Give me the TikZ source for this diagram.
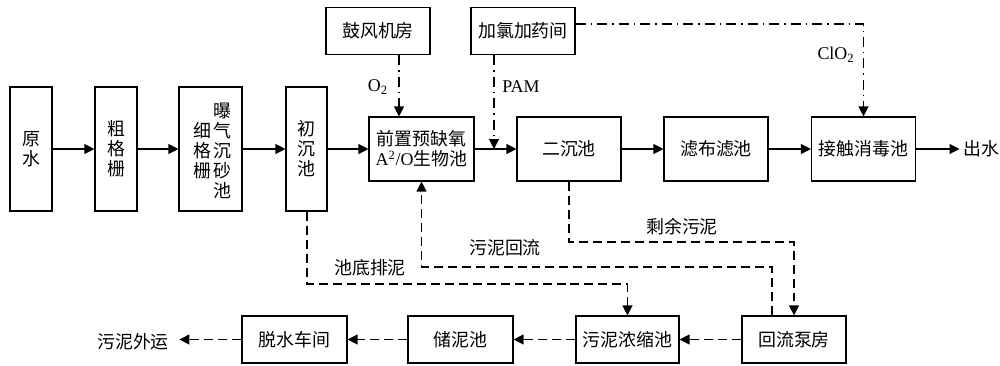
\documentclass[tikz,border=0pt]{standalone}
\usepackage{fontspec}
\setmainfont{Liberation Serif}
\newfontfamily\cjk{Noto Sans CJK SC}
\usetikzlibrary{arrows.meta}
\newcommand\zh{\cjk\fontsize{10.2pt}{11.4pt}\selectfont}
\newcommand\en{\rmfamily\fontsize{10.2pt}{11.4pt}\selectfont}
\begin{document}
\begin{tikzpicture}[x=0.02cm, y=-0.02cm, line width=0.65pt,
  box/.style={draw, line width=0.65pt, inner sep=0pt, align=center, font=\zh},
  tall/.style={box, minimum width=0.84cm, minimum height=2.48cm},
  wide/.style={box, minimum width=2.08cm, minimum height=1.28cm},
  low/.style={box, minimum width=2.08cm, minimum height=0.94cm},
  txt/.style={inner sep=0pt, align=center, font=\zh},
  flow/.style={-{Triangle[length=2mm,width=2mm]}},
  dsh/.style={dash pattern=on 1.8mm off 1mm},
  dd/.style={dash pattern=on 2mm off 1mm on 0.3mm off 1mm}]
\useasboundingbox (0,0) rectangle (1000,365);
% main line boxes
\node[tall] (yuan) at (31,149) {原\\水};
\node[tall] (cu) at (116,149) {粗\\格\\栅};
\node[tall, minimum width=1.26cm] (xi) at (210.5,149) {};
\node[txt] (xit) at (202,151) {细\\格\\栅};
\node[txt] (bqt) at (222,151) {曝\\气\\沉\\砂\\池};
\node[tall, minimum width=0.82cm] (chu) at (306.5,149) {初\\沉\\池};
\node[wide, minimum width=2.1cm] (ao) at (421.5,149) {前置预缺氧\\{\en A\textsuperscript{2}/O}生物池};
\node[low] (gf) at (378,31) {鼓风机房};
\node[low] (jl) at (523,31) {加氯加药间};
\node[wide] (ec) at (569,149) {二沉池};
\node[wide] (lb) at (716,149) {滤布滤池};
\node[wide] (jc) at (863.5,149) {接触消毒池};
\node[txt, inner sep=2pt, anchor=west] (out) at (959.5,149) {出水};
% bottom boxes
\node[low, minimum width=2.1cm] (ts) at (294.5,339.5) {脱水车间};
\node[low, minimum width=2.1cm] (cn) at (460.5,339.5) {储泥池};
\node[low, minimum width=2.06cm] (ns) at (627.5,339.5) {污泥浓缩池};
\node[low] (hl) at (794,339.5) {回流泵房};
\node[txt, inner xsep=0.2cm] (ww) at (133,342) {污泥外运};
% main flow
\draw[flow] (yuan) -- (cu);
\draw[flow] (cu) -- (xi);
\draw[flow] (xi) -- (chu);
\draw[flow] (chu.east) -- (ao.west);
\draw[flow] (ao) -- (ec);
\draw[flow] (ec) -- (lb);
\draw[flow] (lb) -- (jc);
\draw[flow] (jc) -- (out);
% dosing lines
\coordinate (o2x) at (399,0);
\coordinate (pamx) at (494,0);
\coordinate (clx) at (863.5,24);
\draw[flow, dd] (gf.south -| o2x) -- (ao.north -| o2x);
\draw[flow, dd] (jl.south -| pamx) -- (ao.east -| pamx);
\draw[flow, dd] (jl.east |- clx) -- (clx) -- (jc.north);
\node[font=\en, inner sep=0pt] (o2) at (378,87) {O\textsubscript{2}};
\node[font=\en, inner sep=0pt] (pam) at (521,87) {PAM};
\node[font=\en, inner sep=0pt] (clo) at (836,55) {ClO\textsubscript{2}};
% sludge lines
\coordinate (pd) at (307,284);
\coordinate (hlx) at (772,267);
\coordinate (sy) at (0,242);
\draw[flow, dsh] (chu.south -| pd) -- (pd) -| (ns.north);
\draw[flow, dsh] (hl.north -| hlx) -- (hlx) -| (ao.south);
\draw[flow, dsh] (ec.south) -- (ec.south |- sy) -| (hl.north);
\node[txt] (l1) at (370,268) {池底排泥};
\node[txt] (l2) at (505,248) {污泥回流};
\node[txt] (l3) at (682,227) {剩余污泥};
% bottom flow
\draw[flow, dsh] (hl) -- (ns);
\draw[flow, dsh] (ns) -- (cn);
\draw[flow, dsh] (cn) -- (ts);
\draw[flow, dsh] (ts.west) -- (ts.west -| ww.east);
\end{tikzpicture}
\end{document}
